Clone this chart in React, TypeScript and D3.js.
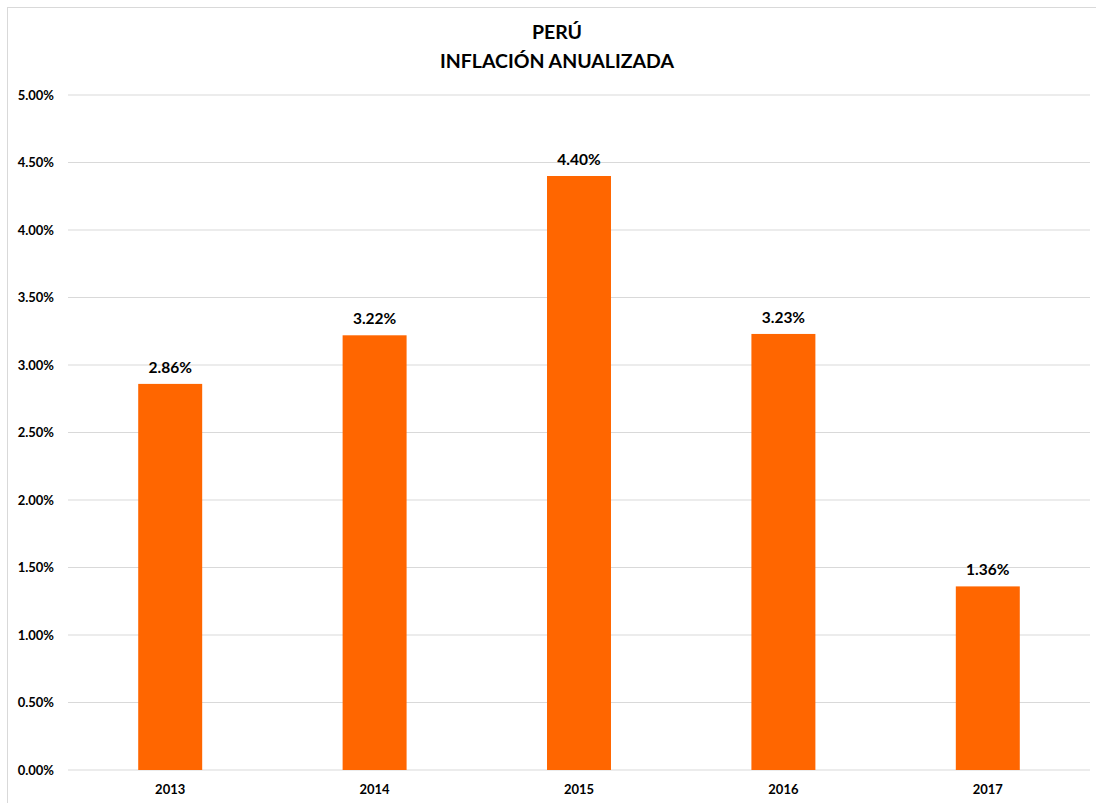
import React from "react";
import * as d3 from "d3";

const categories = ["2013", "2014", "2015", "2016", "2017"];
const values = [2.86, 3.22, 4.4, 3.23, 1.36];
const yTicks = [0, 0.5, 1, 1.5, 2, 2.5, 3, 3.5, 4, 4.5, 5];
const titleLines = ["PERÚ", "INFLACIÓN ANUALIZADA"];

const W = 1096;
const H = 803;
const left = 68;
const right = 1090;
const top = 95;
const bottom = 770;
const FONT = "Lato, 'Open Sans', sans-serif";

export default function App() {
  const x = d3.scaleBand<string>().domain(categories).range([left, right]).paddingInner(0.687).paddingOuter(0.3435);
  const y = d3.scaleLinear().domain([0, 5]).range([bottom, top]);
  const fmt = (v: number) => v.toFixed(2) + "%";
  return (
    <svg width={W} height={H} style={{ position: "absolute", left: 0, top: 0, background: "#fff" }} fontFamily={FONT}>
      <rect x={7.5} y={7.5} width={W + 10} height={H + 10} fill="#fff" stroke="#d9d9d9" strokeWidth={1} />
      {titleLines.map((t, i) => (
        <text key={t} x={557} y={39 + i * 29} textAnchor="middle" fontSize={19.5} fontWeight="bold" fill="#000">
          {t}
        </text>
      ))}
      {yTicks.map((t) => (
        <g key={t}>
          <line x1={left} x2={right} y1={y(t)} y2={y(t)} stroke="#d9d9d9" strokeWidth={1} />
          <text x={54} y={y(t)} dy="0.35em" textAnchor="end" fontSize={13} fontWeight="bold" fill="#000">
            {fmt(t)}
          </text>
        </g>
      ))}
      {categories.map((c, i) => (
        <g key={c}>
          <rect x={x(c)} y={y(values[i])} width={x.bandwidth()} height={y(0) - y(values[i])} fill="#FF6600" />
          <text x={(x(c) as number) + x.bandwidth() / 2} y={y(values[i]) - 11} textAnchor="middle" fontSize={15.5} fontWeight="bold" fill="#000">
            {fmt(values[i])}
          </text>
          <text x={(x(c) as number) + x.bandwidth() / 2} y={789} dy="0.35em" textAnchor="middle" fontSize={13} fontWeight="bold" fill="#000">
            {c}
          </text>
        </g>
      ))}
    </svg>
  );
}
